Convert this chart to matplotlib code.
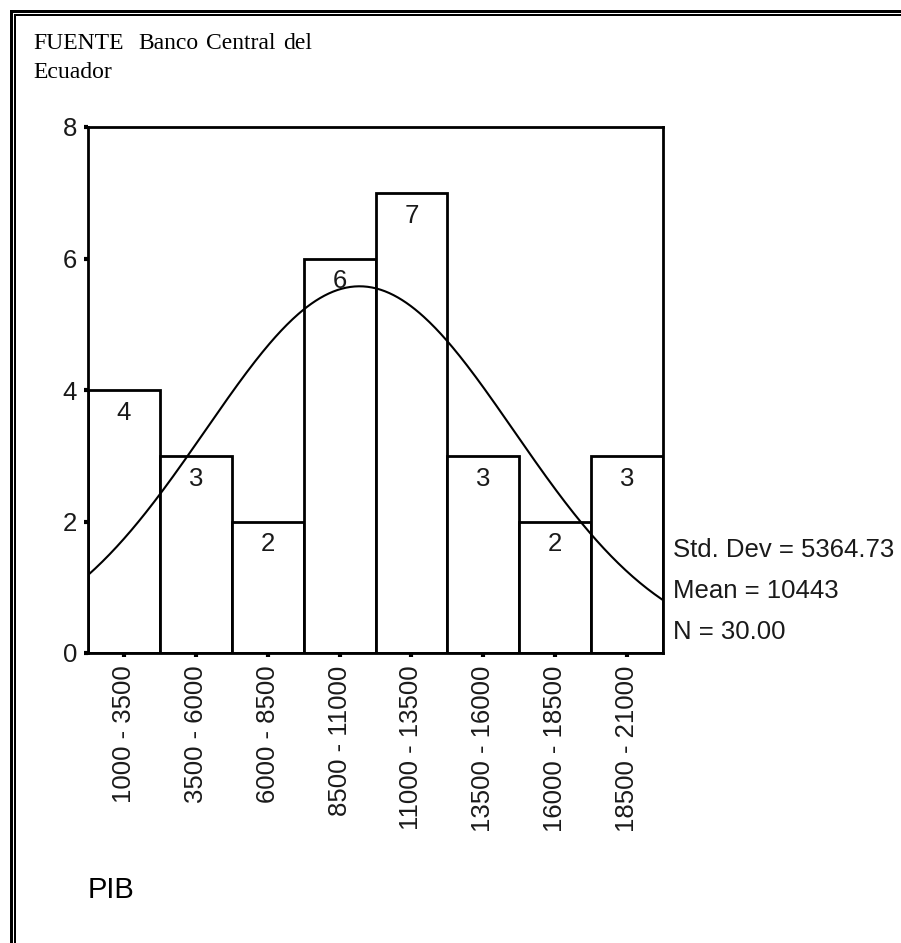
import numpy as np
import matplotlib
matplotlib.use("Agg")
import matplotlib.pyplot as plt
from matplotlib.lines import Line2D

# datos del histograma (PIB)
bin_edges = [1000, 3500, 6000, 8500, 11000, 13500, 16000, 18500, 21000]
counts = [4, 3, 2, 6, 7, 3, 2, 3]
tick_labels = ["1000 - 3500", "3500 - 6000", "6000 - 8500", "8500 - 11000",
               "11000 - 13500", "13500 - 16000", "16000 - 18500", "18500 - 21000"]
std_dev = 5364.73
mean = 10443
n = 30

plt.rcParams["font.family"] = ["Liberation Sans", "DejaVu Sans"]
FS = 18.5

fig = plt.figure(figsize=(9.01, 9.43), dpi=100)
ax = fig.add_axes([88 / 901, 1 - 653 / 943, 575 / 901, 526 / 943])

edges = np.array(bin_edges)
widths = np.diff(edges)
centers = edges[:-1] + widths / 2
ax.bar(edges[:-1], counts, width=widths, align="edge", color="white",
       edgecolor="black", linewidth=2)

# etiquetas de frecuencia dentro de las barras
for c, v in zip(centers, counts):
    ax.annotate(str(v), (c, v), xytext=(0, -16.5), textcoords="offset points",
                ha="center", va="center", fontsize=FS, color="#1a1a1a")

# curva normal
xs = np.linspace(edges[0], edges[-1], 400)
bw = widths[0]
ys = n * bw / (std_dev * np.sqrt(2 * np.pi)) * np.exp(-0.5 * ((xs - mean) / std_dev) ** 2)
ax.plot(xs, ys, color="black", linewidth=1.5)

ax.set_xlim(edges[0], edges[-1])
ax.set_ylim(0, 8)
ax.set_yticks([0, 2, 4, 6, 8])
ax.set_xticks(centers)
ax.set_xticklabels(tick_labels, rotation=90, fontsize=FS)
ax.tick_params(axis="y", labelsize=FS, length=3, width=3, pad=5, labelcolor="#1a1a1a")
ax.tick_params(axis="x", length=3, width=3, pad=6, labelcolor="#1a1a1a")
for s in ax.spines.values():
    s.set_linewidth(2)

# estadisticos
stats = ["Std. Dev = %.2f" % std_dev, "Mean = %d" % mean, "N = %.2f" % n]
for i, t in enumerate(stats):
    fig.text(673 / 901, 1 - (550 + 41 * i) / 943, t, fontsize=FS,
             va="center", ha="left", color="#1a1a1a")

# fuente
for word, px in [("FUENTE", 33), ("Banco", 138), ("Central", 206), ("del", 283)]:
    fig.text(px / 901, 1 - 49 / 943, word, fontsize=17,
             family="Liberation Serif", va="baseline")
fig.text(33 / 901, 1 - 78 / 943, "Ecuador", fontsize=17,
         family="Liberation Serif", va="baseline")
fig.text(88 / 901, 1 - 898 / 943, "PIB", fontsize=21, va="baseline")

# marco doble (solo arriba e izquierda)
for off, lw in [(11, 3), (15, 2)]:
    fig.add_artist(Line2D([off / 901, off / 901], [0, 1 - off / 943],
                          transform=fig.transFigure, color="black", linewidth=lw * 0.72))
    fig.add_artist(Line2D([off / 901, 1], [1 - off / 943, 1 - off / 943],
                          transform=fig.transFigure, color="black", linewidth=lw * 0.72))

fig.savefig("out.png", dpi=100)
